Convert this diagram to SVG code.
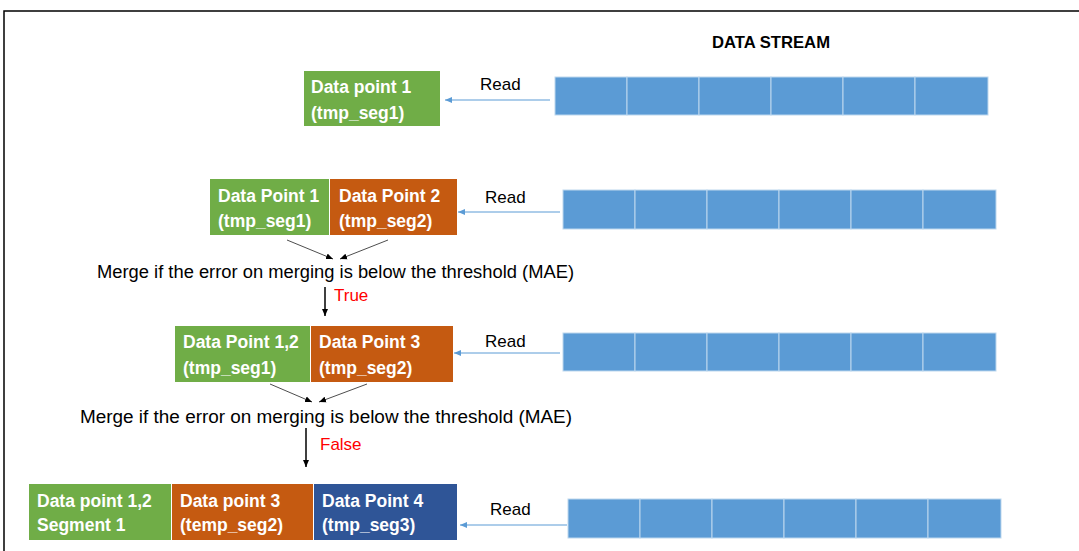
<svg xmlns="http://www.w3.org/2000/svg" width="1079" height="551" viewBox="0 0 1079 551">
<style>
.t{font-family:"Liberation Sans",Arial,sans-serif;}
.bt{font-family:"Liberation Sans",Arial,sans-serif;font-weight:bold;font-size:17.5px;fill:#fff;}
.lbl{font-family:"Liberation Sans",Arial,sans-serif;font-size:17px;fill:#000;}
.g{fill:#70AD47;}
.o{fill:#C55A11;}
.b{fill:#2F5597;}
.cell{fill:#5B9BD5;stroke:#BDD7EE;stroke-width:1;}
.rd{stroke:#5B9BD5;stroke-width:1;fill:none;marker-end:url(#ab);}
.mg{stroke:#000;stroke-width:0.7;fill:none;marker-end:url(#ak);}
.vt{stroke:#000;stroke-width:1.5;fill:none;marker-end:url(#ak2);}
</style>
<defs>
<marker id="ab" markerWidth="8" markerHeight="8" refX="7" refY="4" orient="auto" markerUnits="userSpaceOnUse"><path d="M0,1 L7,4 L0,7 z" fill="#5B9BD5"/></marker>
<marker id="ak" markerWidth="8" markerHeight="8" refX="7" refY="4" orient="auto" markerUnits="userSpaceOnUse"><path d="M0,1 L7,4 L0,7 z" fill="#000"/></marker>
<marker id="ak2" markerWidth="8" markerHeight="8" refX="7" refY="4" orient="auto" markerUnits="userSpaceOnUse"><path d="M0,1 L7,4 L0,7 z" fill="#000"/></marker>
</defs>
<rect x="0" y="0" width="1079" height="551" fill="#fff"/>
<rect x="4" y="11" width="1090" height="560" fill="none" stroke="#000" stroke-width="1.5"/>
<text class="t" x="771" y="48" text-anchor="middle" font-size="16.5" font-weight="bold" textLength="118" lengthAdjust="spacingAndGlyphs">DATA STREAM</text>

<g id="stream1">
<rect class="cell" x="555" y="77" width="72" height="38"/><rect class="cell" x="627" y="77" width="72" height="38"/><rect class="cell" x="699" y="77" width="72" height="38"/><rect class="cell" x="771" y="77" width="72" height="38"/><rect class="cell" x="843" y="77" width="72" height="38"/><rect class="cell" x="915" y="77" width="73" height="38"/>
</g>
<g id="stream2">
<rect class="cell" x="563" y="190" width="72" height="39"/><rect class="cell" x="635" y="190" width="72" height="39"/><rect class="cell" x="707" y="190" width="72" height="39"/><rect class="cell" x="779" y="190" width="72" height="39"/><rect class="cell" x="851" y="190" width="72" height="39"/><rect class="cell" x="923" y="190" width="73" height="39"/>
</g>
<g id="stream3">
<rect class="cell" x="563" y="333" width="72" height="38"/><rect class="cell" x="635" y="333" width="72" height="38"/><rect class="cell" x="707" y="333" width="72" height="38"/><rect class="cell" x="779" y="333" width="72" height="38"/><rect class="cell" x="851" y="333" width="72" height="38"/><rect class="cell" x="923" y="333" width="73" height="38"/>
</g>
<g id="stream4">
<rect class="cell" x="568" y="499" width="72" height="39"/><rect class="cell" x="640" y="499" width="72" height="39"/><rect class="cell" x="712" y="499" width="72" height="39"/><rect class="cell" x="784" y="499" width="72" height="39"/><rect class="cell" x="856" y="499" width="72" height="39"/><rect class="cell" x="928" y="499" width="73" height="39"/>
</g>

<g id="row1">
<rect class="g" x="304" y="71" width="136" height="55"/>
<text class="bt" x="311" y="93">Data point 1</text>
<text class="bt" x="311" y="119">(tmp_seg1)</text>
</g>
<g id="row2">
<rect class="g" x="210" y="179" width="119" height="56"/>
<rect class="o" x="330" y="179" width="127" height="56"/>
<text class="bt" x="218" y="202">Data Point 1</text>
<text class="bt" x="218" y="227">(tmp_seg1)</text>
<text class="bt" x="339" y="202">Data Point 2</text>
<text class="bt" x="339" y="227">(tmp_seg2)</text>
</g>
<g id="row3">
<rect class="g" x="175" y="326" width="135" height="56"/>
<rect class="o" x="311" y="326" width="142" height="56"/>
<text class="bt" x="183" y="348">Data Point 1,2</text>
<text class="bt" x="183" y="374">(tmp_seg1)</text>
<text class="bt" x="319" y="348">Data Point 3</text>
<text class="bt" x="319" y="374">(tmp_seg2)</text>
</g>
<g id="row4">
<rect class="g" x="29" y="484" width="142" height="56"/>
<rect class="o" x="172" y="484" width="141" height="56"/>
<rect class="b" x="314" y="484" width="143" height="56"/>
<text class="bt" x="37" y="507">Data point 1,2</text>
<text class="bt" x="37" y="531">Segment 1</text>
<text class="bt" x="180" y="507">Data point 3</text>
<text class="bt" x="180" y="531">(temp_seg2)</text>
<text class="bt" x="322" y="507">Data Point 4</text>
<text class="bt" x="322" y="531">(tmp_seg3)</text>
</g>

<g id="labels">
<text class="lbl" x="480" y="90">Read</text>
<text class="lbl" x="485" y="203">Read</text>
<text class="lbl" x="485" y="347">Read</text>
<text class="lbl" x="490" y="515">Read</text>
<text class="lbl" x="97" y="278" font-size="18" style="font-size:18px" textLength="477" lengthAdjust="spacingAndGlyphs">Merge if the error on merging is below the threshold (MAE)</text>
<text class="lbl" x="80" y="423" style="font-size:18px" textLength="492" lengthAdjust="spacingAndGlyphs">Merge if the error on merging is below the threshold (MAE)</text>
<text class="lbl" x="334" y="301" style="fill:#FF0000">True</text>
<text class="lbl" x="320" y="450" style="fill:#FF0000">False</text>
</g>

<g id="connectors">
<line class="rd" x1="550" y1="100" x2="445" y2="100"/>
<line class="rd" x1="560" y1="212" x2="458" y2="212"/>
<line class="rd" x1="560" y1="353" x2="454" y2="353"/>
<line class="rd" x1="567" y1="525" x2="460" y2="525"/>
<line class="mg" x1="287" y1="240" x2="333" y2="259"/>
<line class="mg" x1="388" y1="240" x2="340" y2="259"/>
<line class="mg" x1="270" y1="384" x2="312" y2="402"/>
<line class="mg" x1="367" y1="384" x2="319" y2="402"/>
<line class="vt" x1="325" y1="287" x2="325" y2="316"/>
<line class="vt" x1="306" y1="428" x2="306" y2="467"/>
</g>
</svg>
